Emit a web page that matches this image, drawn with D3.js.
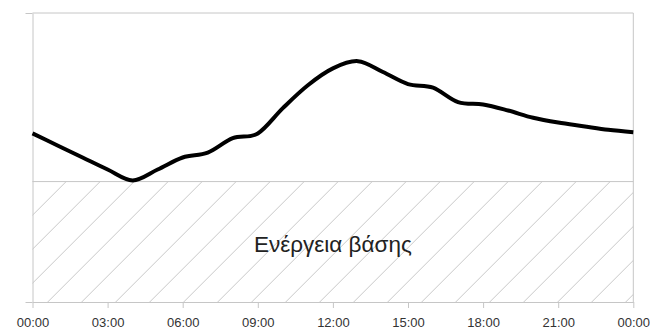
<!DOCTYPE html>
<html>
<head>
<meta charset="utf-8">
<script src="https://cdn.jsdelivr.net/npm/d3@7"></script>
<style>
  html, body { margin: 0; padding: 0; background: #fff; }
  svg { display: block; font-family: Arial, "Liberation Sans", sans-serif; }
</style>
</head>
<body>
<svg id="chart" width="650" height="329"></svg>
<script>
// ---- data ----
const hours = [0,1,2,3,4,5,6,7,8,9,10,11,12,13,14,15,16,17,18,19,20,21,22,23,24];
const load  = [1.40,1.30,1.20,1.10,1.01,1.10,1.20,1.24,1.36,1.40,1.61,1.80,1.94,2.00,1.91,1.81,1.78,1.66,1.64,1.59,1.53,1.49,1.46,1.43,1.41];
const baseHours = [0, 24];
const baseLoad  = [1.0, 1.0];
const xTickHours  = [0,3,6,9,12,15,18,21,24];
const xTickLabels = ["00:00","03:00","06:00","09:00","12:00","15:00","18:00","21:00","00:00"];
const yDomain = [0, 2.4];
const baseLabel = "Ενέργεια βάσης";

// ---- layout ----
const svg = d3.select("#chart");
const m = { left: 32.5, right: 633.3, top: 13, bottom: 302 };
const x = d3.scaleLinear().domain([0, 24]).range([m.left, m.right]);
const y = d3.scaleLinear().domain(yDomain).range([m.bottom, m.top]);
const gridColor = "#c6c6c6";

// hatch pattern
const defs = svg.append("defs");
const pat = defs.append("pattern")
  .attr("id", "hatch").attr("patternUnits", "userSpaceOnUse")
  .attr("x", 9.7).attr("y", 0).attr("width", 34).attr("height", 34);
pat.append("path")
  .attr("d", "M0,34 L34,0 M-8.5,8.5 L8.5,-8.5 M25.5,42.5 L42.5,25.5")
  .attr("stroke", "#c8c8c8").attr("stroke-width", 1).attr("fill", "none");

// base energy area
const baseData = baseHours.map((h, i) => ({ h, v: baseLoad[i] }));
svg.append("path")
  .datum(baseData)
  .attr("fill", "url(#hatch)")
  .attr("d", d3.area().x(d => x(d.h)).y0(y(0)).y1(d => y(d.v)));
svg.append("path")
  .datum(baseData)
  .attr("fill", "none").attr("stroke", gridColor).attr("stroke-width", 1)
  .attr("d", d3.line().x(d => x(d.h)).y(d => y(d.v)));

// plot border: top + right
svg.append("line")
  .attr("x1", m.left).attr("x2", m.right).attr("y1", y(yDomain[1])).attr("y2", y(yDomain[1]))
  .attr("stroke", gridColor);
svg.append("line")
  .attr("x1", m.right).attr("x2", m.right).attr("y1", y(yDomain[1])).attr("y2", y(0))
  .attr("stroke", gridColor);

// axes
const xAxis = svg.append("g")
  .attr("transform", `translate(0,${m.bottom})`)
  .call(d3.axisBottom(x).tickValues(xTickHours).tickFormat((d, i) => xTickLabels[i]).tickSize(6).tickPadding(10).tickSizeOuter(0));
xAxis.select(".domain").attr("stroke", gridColor);
xAxis.selectAll(".tick line").attr("stroke", gridColor);
xAxis.selectAll("text").attr("font-size", 13).attr("fill", "#333")
  .attr("font-family", 'Arial, "Liberation Sans", sans-serif');

const yAxis = svg.append("g")
  .attr("transform", `translate(${m.left},0)`)
  .call(d3.axisLeft(y).tickValues(yDomain).tickFormat("").tickSize(7).tickSizeOuter(0));
yAxis.select(".domain").attr("stroke", gridColor);
yAxis.selectAll(".tick line").attr("stroke", gridColor);

// load curve
const pts = hours.map((h, i) => ({ h, v: load[i] }));
svg.append("path")
  .datum(pts)
  .attr("fill", "none").attr("stroke", "#000").attr("stroke-width", 4)
  .attr("stroke-linejoin", "round").attr("stroke-linecap", "butt")
  .attr("d", d3.line().x(d => x(d.h)).y(d => y(d.v)).curve(d3.curveCardinal.tension(0)));

// label
svg.append("text")
  .attr("x", (m.left + m.right) / 2).attr("y", 252)
  .attr("text-anchor", "middle").attr("font-size", 22.5).attr("fill", "#222")
  .text(baseLabel);
</script>
</body>
</html>
